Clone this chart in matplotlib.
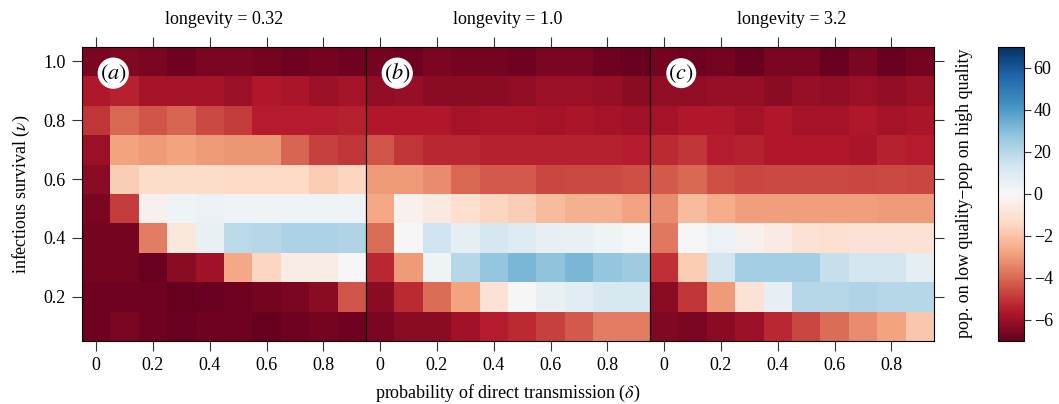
import numpy as np
import matplotlib
matplotlib.use("Agg")
import matplotlib.pyplot as plt
from matplotlib.colors import TwoSlopeNorm

plt.rcParams['font.family'] = ['Liberation Serif', 'DejaVu Serif']
plt.rcParams['mathtext.fontset'] = 'stix'
plt.rcParams['font.size'] = 13

# direct transmission (columns) and infectious survival (rows, top row = 1.0)
delta = [0.0, 0.1, 0.2, 0.3, 0.4, 0.5, 0.6, 0.7, 0.8, 0.9]
nu = [1.0, 0.9, 0.8, 0.7, 0.6, 0.5, 0.4, 0.3, 0.2, 0.1]
longevity = ['0.32', '1.0', '3.2']
panel_tags = ['a', 'b', 'c']

diff_a = [
    [-6.6, -6.5, -6.6, -6.8, -6.6, -6.6, -6.7, -6.8, -6.7, -6.8],
    [-5.6, -5.4, -5.8, -5.8, -5.8, -6.0, -5.6, -5.7, -6.0, -5.8],
    [-5.0, -4.0, -4.4, -4.1, -4.6, -4.9, -5.5, -5.5, -5.5, -5.4],
    [-6.0, -2.8, -3.0, -2.8, -3.0, -3.1, -3.1, -4.1, -4.8, -5.0],
    [-6.3, -1.7, -1.3, -1.3, -1.3, -1.4, -1.4, -1.4, -1.8, -1.5],
    [-6.6, -4.9, -0.3, 3.0, 4.0, 3.0, 3.0, 3.0, 3.0, 3.0],
    [-6.7, -6.7, -3.6, -0.8, 5.0, 19.0, 20.0, 22.0, 22.0, 21.0],
    [-6.7, -6.7, -6.9, -6.3, -5.9, -2.7, -1.5, -0.5, -0.5, 0.5],
    [-6.8, -6.8, -6.8, -7.0, -6.9, -6.8, -6.7, -6.6, -6.3, -4.4],
    [-6.8, -6.6, -6.8, -6.9, -6.8, -6.8, -7.0, -6.8, -6.7, -6.8],
]

diff_b = [
    [-6.7, -6.8, -6.6, -6.7, -6.7, -6.8, -6.6, -6.6, -6.8, -6.9],
    [-6.2, -6.1, -6.3, -6.3, -6.3, -6.2, -6.0, -6.0, -6.1, -6.3],
    [-5.6, -5.6, -5.6, -5.8, -5.7, -5.7, -5.8, -5.7, -5.8, -5.9],
    [-4.4, -5.0, -5.3, -5.3, -5.4, -5.4, -5.4, -5.4, -5.4, -5.5],
    [-3.0, -3.0, -3.3, -4.0, -4.3, -4.3, -4.7, -4.6, -4.6, -4.5],
    [-2.7, -0.3, -0.7, -1.2, -1.5, -1.7, -2.2, -2.5, -2.5, -2.8],
    [-3.9, 0.5, 14.0, 7.0, 12.0, 9.0, 6.0, 5.0, 3.0, 1.0],
    [-5.3, -3.0, 3.0, 20.0, 27.0, 32.0, 28.0, 32.0, 27.0, 25.0],
    [-6.3, -5.2, -3.9, -2.8, -1.0, 0.5, 5.0, 8.0, 11.0, 11.0],
    [-6.6, -6.3, -6.3, -5.9, -5.5, -5.2, -4.8, -4.3, -3.6, -3.6],
]

diff_c = [
    [-6.7, -6.8, -6.7, -6.9, -6.6, -6.6, -6.9, -6.6, -6.9, -6.7],
    [-6.2, -6.2, -6.1, -6.1, -6.3, -6.1, -6.2, -6.0, -6.2, -6.0],
    [-5.8, -5.6, -5.6, -5.8, -5.6, -5.8, -5.8, -5.6, -5.8, -5.7],
    [-5.2, -5.0, -5.5, -5.4, -5.6, -5.6, -5.6, -5.7, -5.4, -5.5],
    [-4.3, -4.0, -4.5, -4.7, -4.6, -4.6, -4.6, -4.7, -4.6, -4.7],
    [-3.3, -2.2, -2.6, -2.9, -2.9, -2.9, -2.9, -2.9, -3.0, -3.0],
    [-3.7, 0.5, 4.0, -0.3, -0.6, -1.0, -1.1, -1.0, -1.0, -1.0],
    [-5.1, -1.8, 13.0, 24.0, 24.0, 24.0, 16.0, 13.0, 13.0, 7.0],
    [-6.3, -5.0, -3.0, -1.0, 6.0, 20.0, 20.0, 21.0, 20.0, 20.0],
    [-6.5, -6.6, -6.3, -6.0, -5.3, -4.7, -3.9, -3.3, -2.8, -1.9],
]

cbar_ticks = [-6, -4, -2, 0, 20, 40, 60]

norm = TwoSlopeNorm(vmin=-7, vcenter=0, vmax=70)
fig = plt.figure(figsize=(10.59, 4.04), dpi=100)

W, H = 1059, 404
left, top, bottom = 82, 46.7, 340.7
pw = 284
axes = []
for k, data in enumerate([diff_a, diff_b, diff_c]):
    ax = fig.add_axes([(left + k * pw) / W, 1 - bottom / H, pw / W, (bottom - top) / H])
    im = ax.imshow(np.array(data), cmap='RdBu', norm=norm, origin='upper',
                   extent=(delta[0] - 0.05, delta[-1] + 0.05, nu[-1] - 0.05, nu[0] + 0.05),
                   aspect='auto', interpolation='nearest')
    ax.set_xticks([0, 0.2, 0.4, 0.6, 0.8])
    ax.set_xticklabels(['0', '0.2', '0.4', '0.6', '0.8'])
    ax.set_yticks([0.2, 0.4, 0.6, 0.8, 1.0])
    ax.tick_params(direction='out', length=7, width=0.8, color='#333333', pad=5, top=True,
                   labeltop=False, left=(k == 0), labelleft=(k == 0), right=(k == 2), labelright=False)
    ax.set_title('longevity = ' + longevity[k], fontsize=13, pad=16)
    ax.text(0.11, 0.91, r'$(%s)$' % panel_tags[k], transform=ax.transAxes, fontsize=16,
            ha='center', va='center',
            bbox=dict(boxstyle='circle,pad=0.1', fc='white', ec='none'))
    axes.append(ax)

axes[0].set_yticklabels(['0.2', '0.4', '0.6', '0.8', '1.0'])
axes[0].set_ylabel(r'infectious survival ($\nu$)', fontsize=13, labelpad=8)
axes[1].set_xlabel(r'probability of direct transmission ($\delta$)', fontsize=13, labelpad=6)

cax = fig.add_axes([998 / W, 1 - bottom / H, 26 / W, (bottom - top) / H])
cb = fig.colorbar(im, cax=cax, ticks=cbar_ticks)
cb.ax.tick_params(direction='out', length=5, width=0.8, color='#333333', pad=2)
cb.ax.set_yticklabels([str(t).replace('-', '\u2212') for t in cbar_ticks])
cb.ax.yaxis.set_label_position('left')
cb.set_label('pop. on low quality\u2212pop on high quality', fontsize=13, labelpad=18)
cb.outline.set_linewidth(0.8)

fig.savefig('out.png', dpi=100)
